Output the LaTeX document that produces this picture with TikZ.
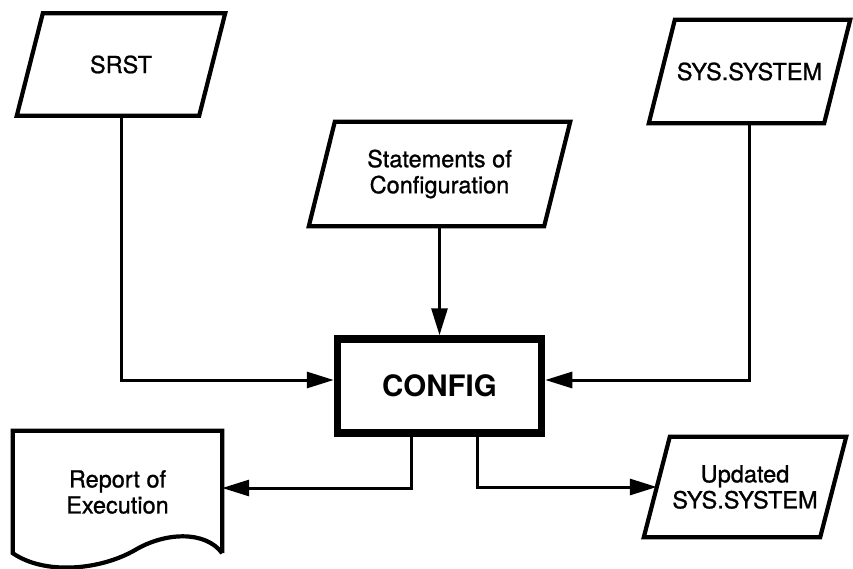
\documentclass[tikz,border=0pt]{standalone}
\usepackage{fontspec}
\setmainfont{TeX Gyre Heros}
\newfontfamily\boxfont[FakeBold=1]{TeX Gyre Heros}
\usetikzlibrary{arrows.meta}

% parallelogram round a named io node
\newcommand{\ioshape}[1]{%
    \draw[ioline] ([xshift=26pt]#1.north west) -- (#1.north east) -- ([xshift=-26pt]#1.south east) -- (#1.south west) -- cycle;}

\begin{document}
\begin{tikzpicture}[
    x=1pt, y=-1pt,
    every node/.style={font=\boxfont\fontsize{23.5}{26}\selectfont, align=center},
    ioline/.style={line width=4.2pt, line join=miter},
    io/.style={rectangle, inner sep=0pt},
    prog/.style={rectangle, draw, line width=7.5pt, minimum width=204pt, minimum height=94pt, font=\fontsize{29.5}{32}\selectfont\bfseries},
    doc/.style={rectangle, minimum width=209pt, minimum height=122pt, inner sep=0pt},
    link/.style={line width=3pt, -{Triangle[length=27pt,width=16pt]}}
]
    \useasboundingbox (0,0) rectangle (853,569);

    % Inputs
    \node[io, minimum width=208pt, minimum height=102pt] (srst) at (121,64.5) {SRST};
    \node[io, minimum width=261pt, minimum height=104pt] (stmt) at (439.5,174) {Statements of\\Configuration};
    \node[io, minimum width=201pt, minimum height=103pt] (sys) at (749.5,71.5) {SYS.SYSTEM};
    \ioshape{srst}
    \ioshape{stmt}
    \ioshape{sys}

    % Program
    \node[prog] (config) at (439.5,386) {CONFIG};

    % Outputs
    \node[doc] (report) at (117.5,492) {Report of\\Execution};
    \draw[ioline] (report.south east) -- (report.north east) -- (report.north west) -- (report.south west)
        .. controls +(32,22) and +(-35,20) .. ++(122,-3)
        .. controls +(30,-18) and +(-17,-23) .. (report.south east);
    \node[io, minimum width=202pt, minimum height=100pt] (upd) at (745,487) {Updated\\SYS.SYSTEM};
    \ioshape{upd}

    % Connections
    \draw[link] (srst.center |- srst.south) |- ([yshift=6pt]config.west);
    \draw[link] (sys.center |- sys.south) |- ([yshift=6pt]config.east);
    \draw[link] (stmt.south) -- (config.north);
    \draw[link] ([xshift=-28pt]config.south) |- ([yshift=4pt]report.east);
    \draw[link] ([xshift=38pt]config.south) |- ([xshift=13pt]upd.west);
\end{tikzpicture}
\end{document}
